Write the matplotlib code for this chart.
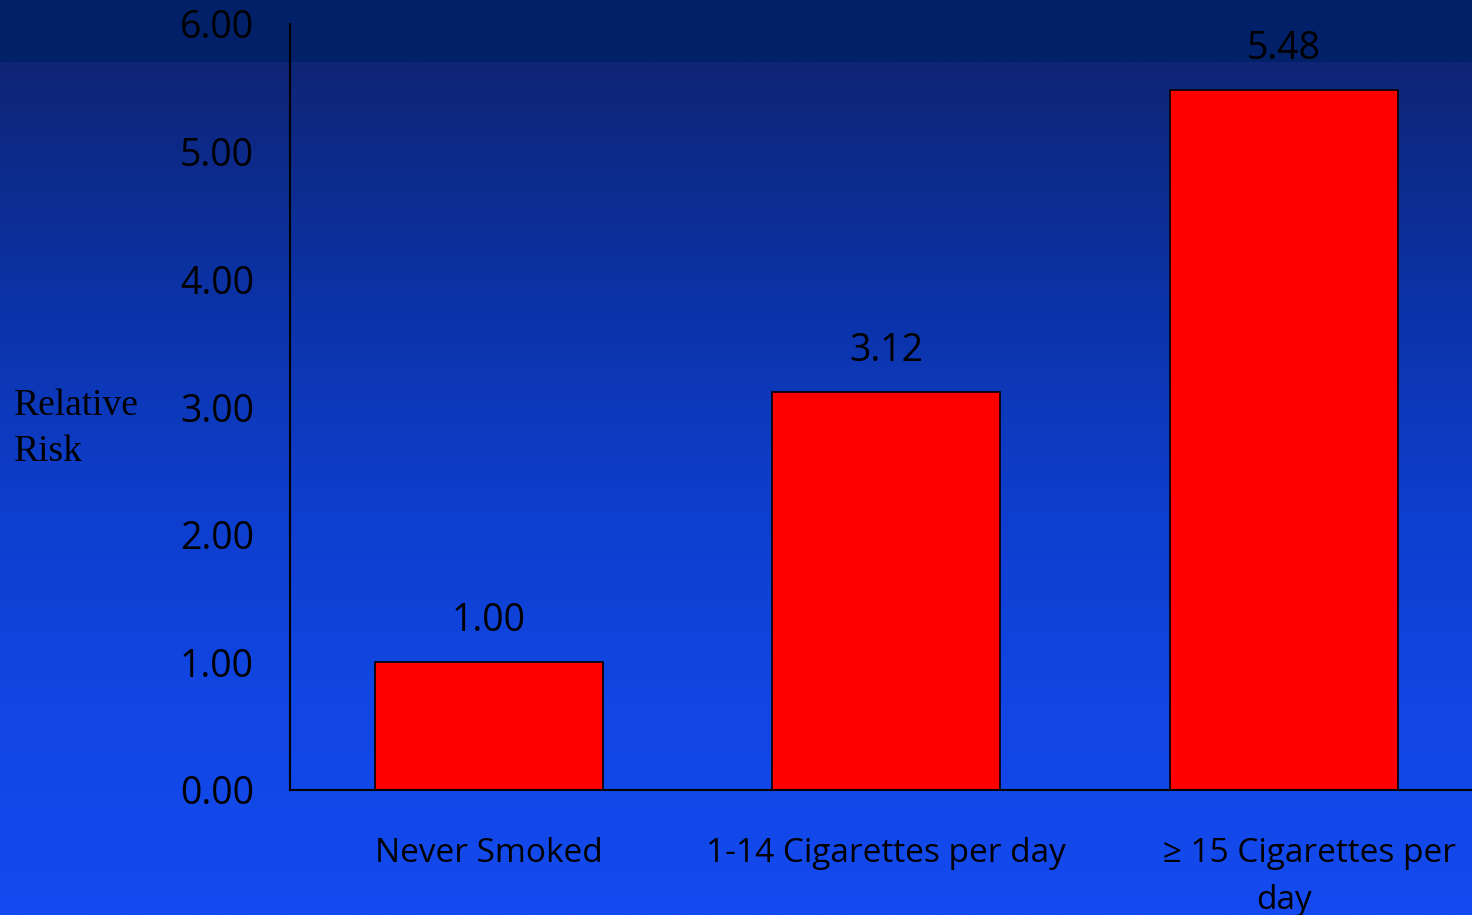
import matplotlib.pyplot as plt
import numpy as np
from matplotlib.colors import LinearSegmentedColormap

categories = ["Never Smoked", "1-14 Cigarettes per day", "      \u2265 15 Cigarettes per\nday"]
relative_risk = [1.00, 3.12, 5.48]
yticks = [0.0, 1.0, 2.0, 3.0, 4.0, 5.0, 6.0]

W, H = 1472, 915
fig = plt.figure(figsize=(W / 100, H / 100), dpi=100)

# background: flat navy band on top, then a vertical blue gradient
bg = fig.add_axes([0, 0, 1, 1], zorder=0)
bg.set_axis_off()
grad = LinearSegmentedColormap.from_list(
    "bgblue",
    [(0.0, "#0f2576"), (0.25, "#0b31a2"), (0.5, "#0e3dca"),
     (0.75, "#1146e3"), (1.0, "#144aef")])
rows = np.linspace(0, 1, 512).reshape(-1, 1)
band = 62 / H
bg.imshow(rows, cmap=grad, aspect="auto",
          extent=[0, 1, 0, 1 - band], origin="upper")
bg.axhspan(1 - band, 1, color="#012068", lw=0)
bg.set_xlim(0, 1)
bg.set_ylim(0, 1)

font = ["Open Sans", "DejaVu Sans"]
ax = fig.add_axes([290 / W, 125 / H, 1192.5 / W, 766 / H], zorder=1)
ax.patch.set_alpha(0)

x = np.arange(len(categories))
bars = ax.bar(x, relative_risk, width=0.574, color="#ff0000",
              edgecolor="black", linewidth=1.2)

for xi, v in zip(x, relative_risk):
    ax.annotate(f"{v:.2f}", (xi, v), xytext=(0, 29.5), textcoords="offset points",
                ha="center", va="center", fontsize=27, family=font, color="black")

ax.set_xlim(-0.5, 2.5)
ax.set_ylim(0, 6)
ax.set_yticks(yticks)
ax.set_yticklabels([f"{t:.2f}" for t in yticks], fontsize=27, family=font)
ax.set_xticks(x)
ax.set_xticklabels(categories, fontsize=24, family=font, linespacing=1.55)
ax.tick_params(axis="y", length=0, pad=26)
ax.tick_params(axis="x", length=0, pad=34)

for s in ["top", "right"]:
    ax.spines[s].set_visible(False)
for s in ["left", "bottom"]:
    ax.spines[s].set_linewidth(1.5)
    ax.spines[s].set_color("black")

fig.text(14 / W, 1 - 429 / H, "Relative\nRisk", ha="left", va="center",
         fontsize=27, family=["Liberation Serif", "DejaVu Serif"],
         linespacing=1.45)

fig.savefig("out.png", dpi=100)
